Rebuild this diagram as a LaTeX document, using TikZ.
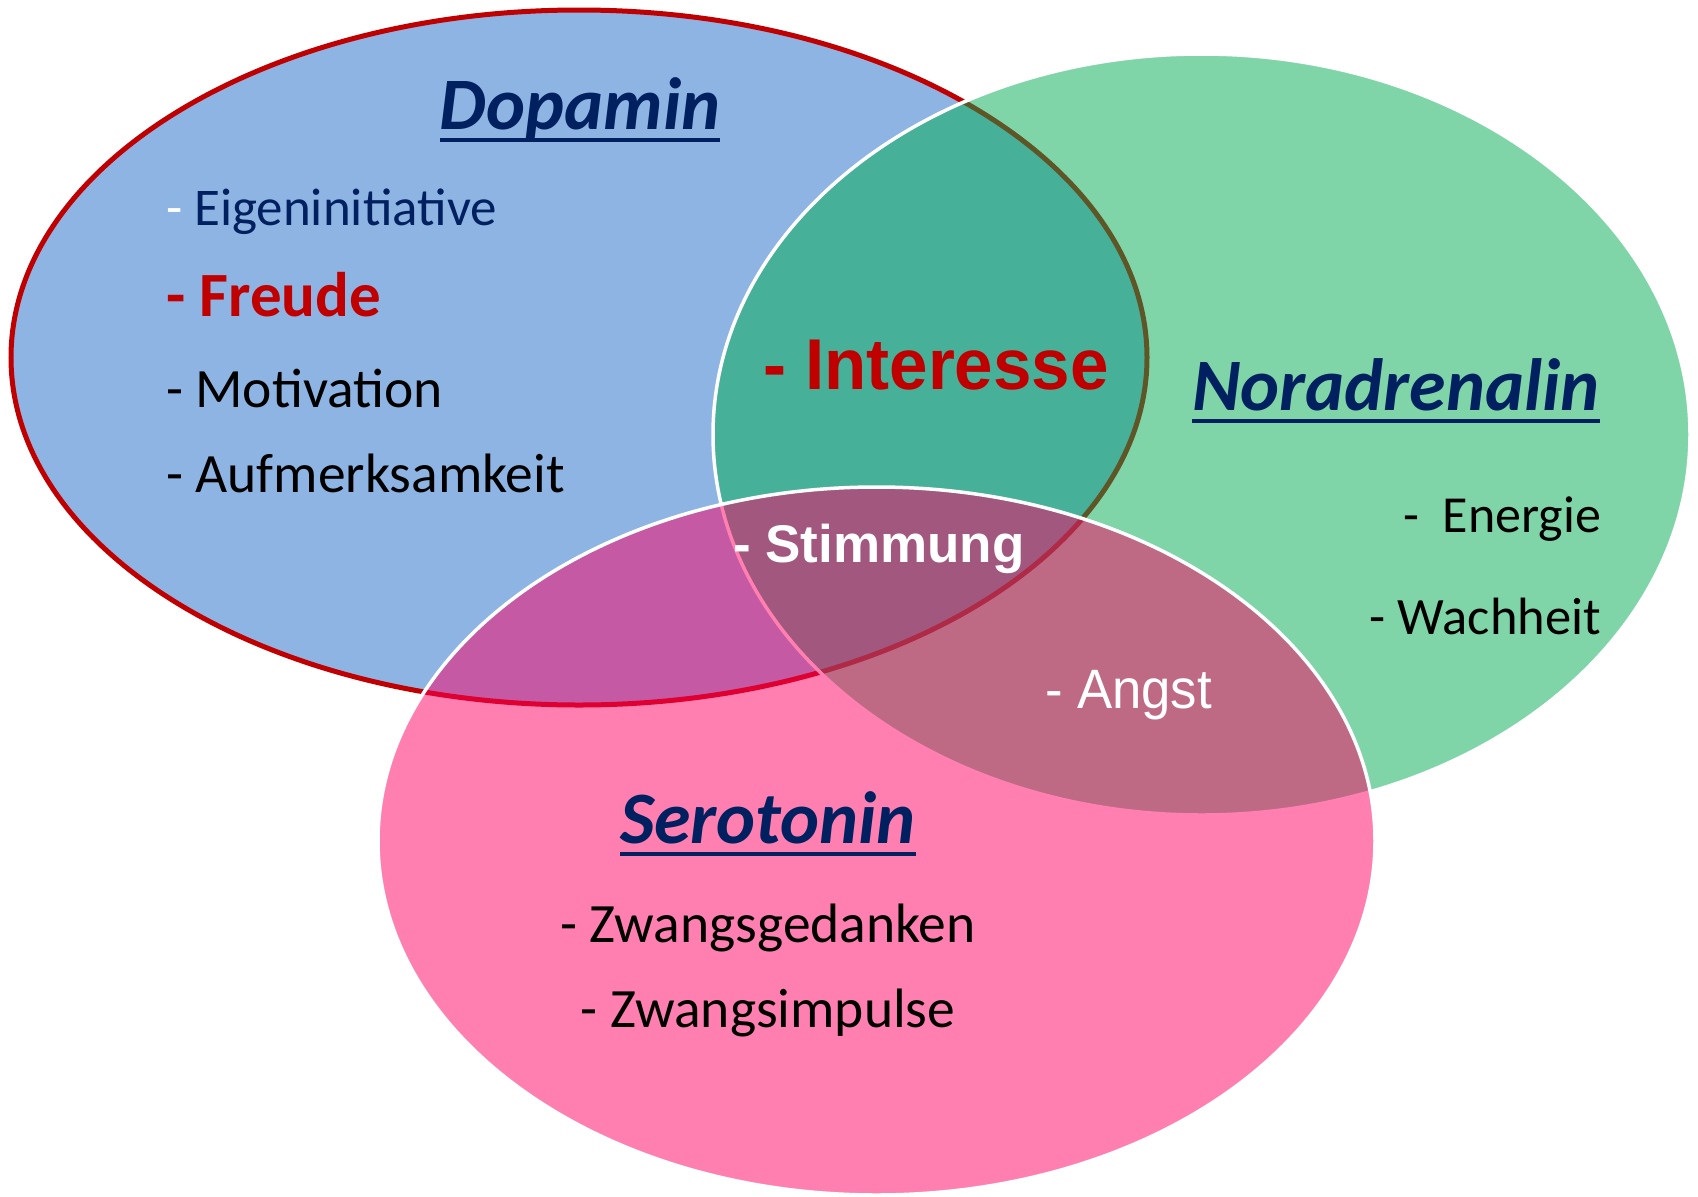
\documentclass[tikz,border=0pt]{standalone}
\usepackage{fontspec}
\setmainfont{Carlito}
\newfontfamily\arialfont{Liberation Sans}
\newfontfamily\arialnarrow[FakeStretch=0.96]{Liberation Sans}
\newfontfamily\arialsemi[FakeStretch=0.95]{Liberation Sans}
\definecolor{dopablue}{HTML}{8EB4E3}
\definecolor{dopared}{HTML}{C00000}
\definecolor{noragreen}{RGB}{0,173,81}
\definecolor{seropink}{RGB}{255,0,100}
\definecolor{navy}{HTML}{002060}
\tikzset{
  lbl/.style={inner sep=0pt, outer sep=0pt},
  title/.style={lbl, anchor=base, text=navy, font=\fontsize{74}{80}\selectfont\bfseries\itshape},
  uline/.style={draw=navy, line width=3.5pt},
  item/.style={lbl, font=\fontsize{#1}{#1}\selectfont},
}
\begin{document}
\begin{tikzpicture}[x=1pt, y=-1pt]
  \useasboundingbox (0,0) rectangle (1698,1197);
  \fill[white] (0,0) rectangle (1698,1197);

  % Dopamin
  \fill[dopablue] (579,357.5) ellipse [x radius=568pt, y radius=347.5pt];
  \draw[dopared, line width=5pt] (579,357.5) ellipse [x radius=568pt, y radius=347.5pt];
  % Noradrenalin
  \fill[noragreen, fill opacity=0.5] (1201.5,434.5) ellipse [x radius=488.5pt, y radius=380.5pt];
  \draw[white, line width=3.5pt] (1201.5,434.5) ellipse [x radius=488.5pt, y radius=380.5pt];
  % Serotonin
  \fill[seropink, fill opacity=0.5] (876.5,841) ellipse [x radius=498.5pt, y radius=354pt];
  \draw[white, line width=3.5pt] (876.5,841) ellipse [x radius=498.5pt, y radius=354pt];

  % Titles
  \node[title] (dop) at (580,129) {Dopamin};
  \node[title] (nor) at (1396,410) {Noradrenalin};
  \node[title] (ser) at (768,843) {Serotonin};
  \foreach \t in {dop,nor,ser}
    \draw[uline] ([yshift=-11pt]\t.base west) -- ([yshift=-11pt]\t.base east);

  % Dopamin items
  \node[item=53, anchor=base west, text=navy] (eig) at (166,225) {{\color{white}-} Eigeninitiative};
  \node[item=63, anchor=base west, text=dopared, font=\fontsize{63}{63}\selectfont\bfseries] (freu) at (166,316) {- Freude};
  \node[item=55.5, anchor=base west] (mot) at (166,407) {- Motivation};
  \node[item=55.5, anchor=base west] (auf) at (166,492) {- Aufmerksamkeit};

  % Overlaps
  \node[lbl, anchor=base west, text=dopared, font=\arialnarrow\fontsize{72}{72}\selectfont\bfseries] (int) at (763,389) {- Interesse};
  \node[lbl, anchor=base west, text=white, font=\arialfont\fontsize{53}{53}\selectfont\bfseries] (stim) at (733,562) {- Stimmung};
  \node[lbl, anchor=base west, text=white, font=\arialsemi\fontsize{55.5}{56}\selectfont] (angst) at (1045,708) {- Angst};

  % Noradrenalin items
  \node[item=52, anchor=base east] (ene) at (1601,532) {-\ \ Energie};
  \node[item=52.5, anchor=base east] (wach) at (1601,634) {- Wachheit};

  % Serotonin items
  \node[item=55.5, anchor=base] (zg) at (768,942) {- Zwangsgedanken};
  \node[item=55.5, anchor=base] (zi) at (768,1027) {- Zwangsimpulse};
\end{tikzpicture}
\end{document}
